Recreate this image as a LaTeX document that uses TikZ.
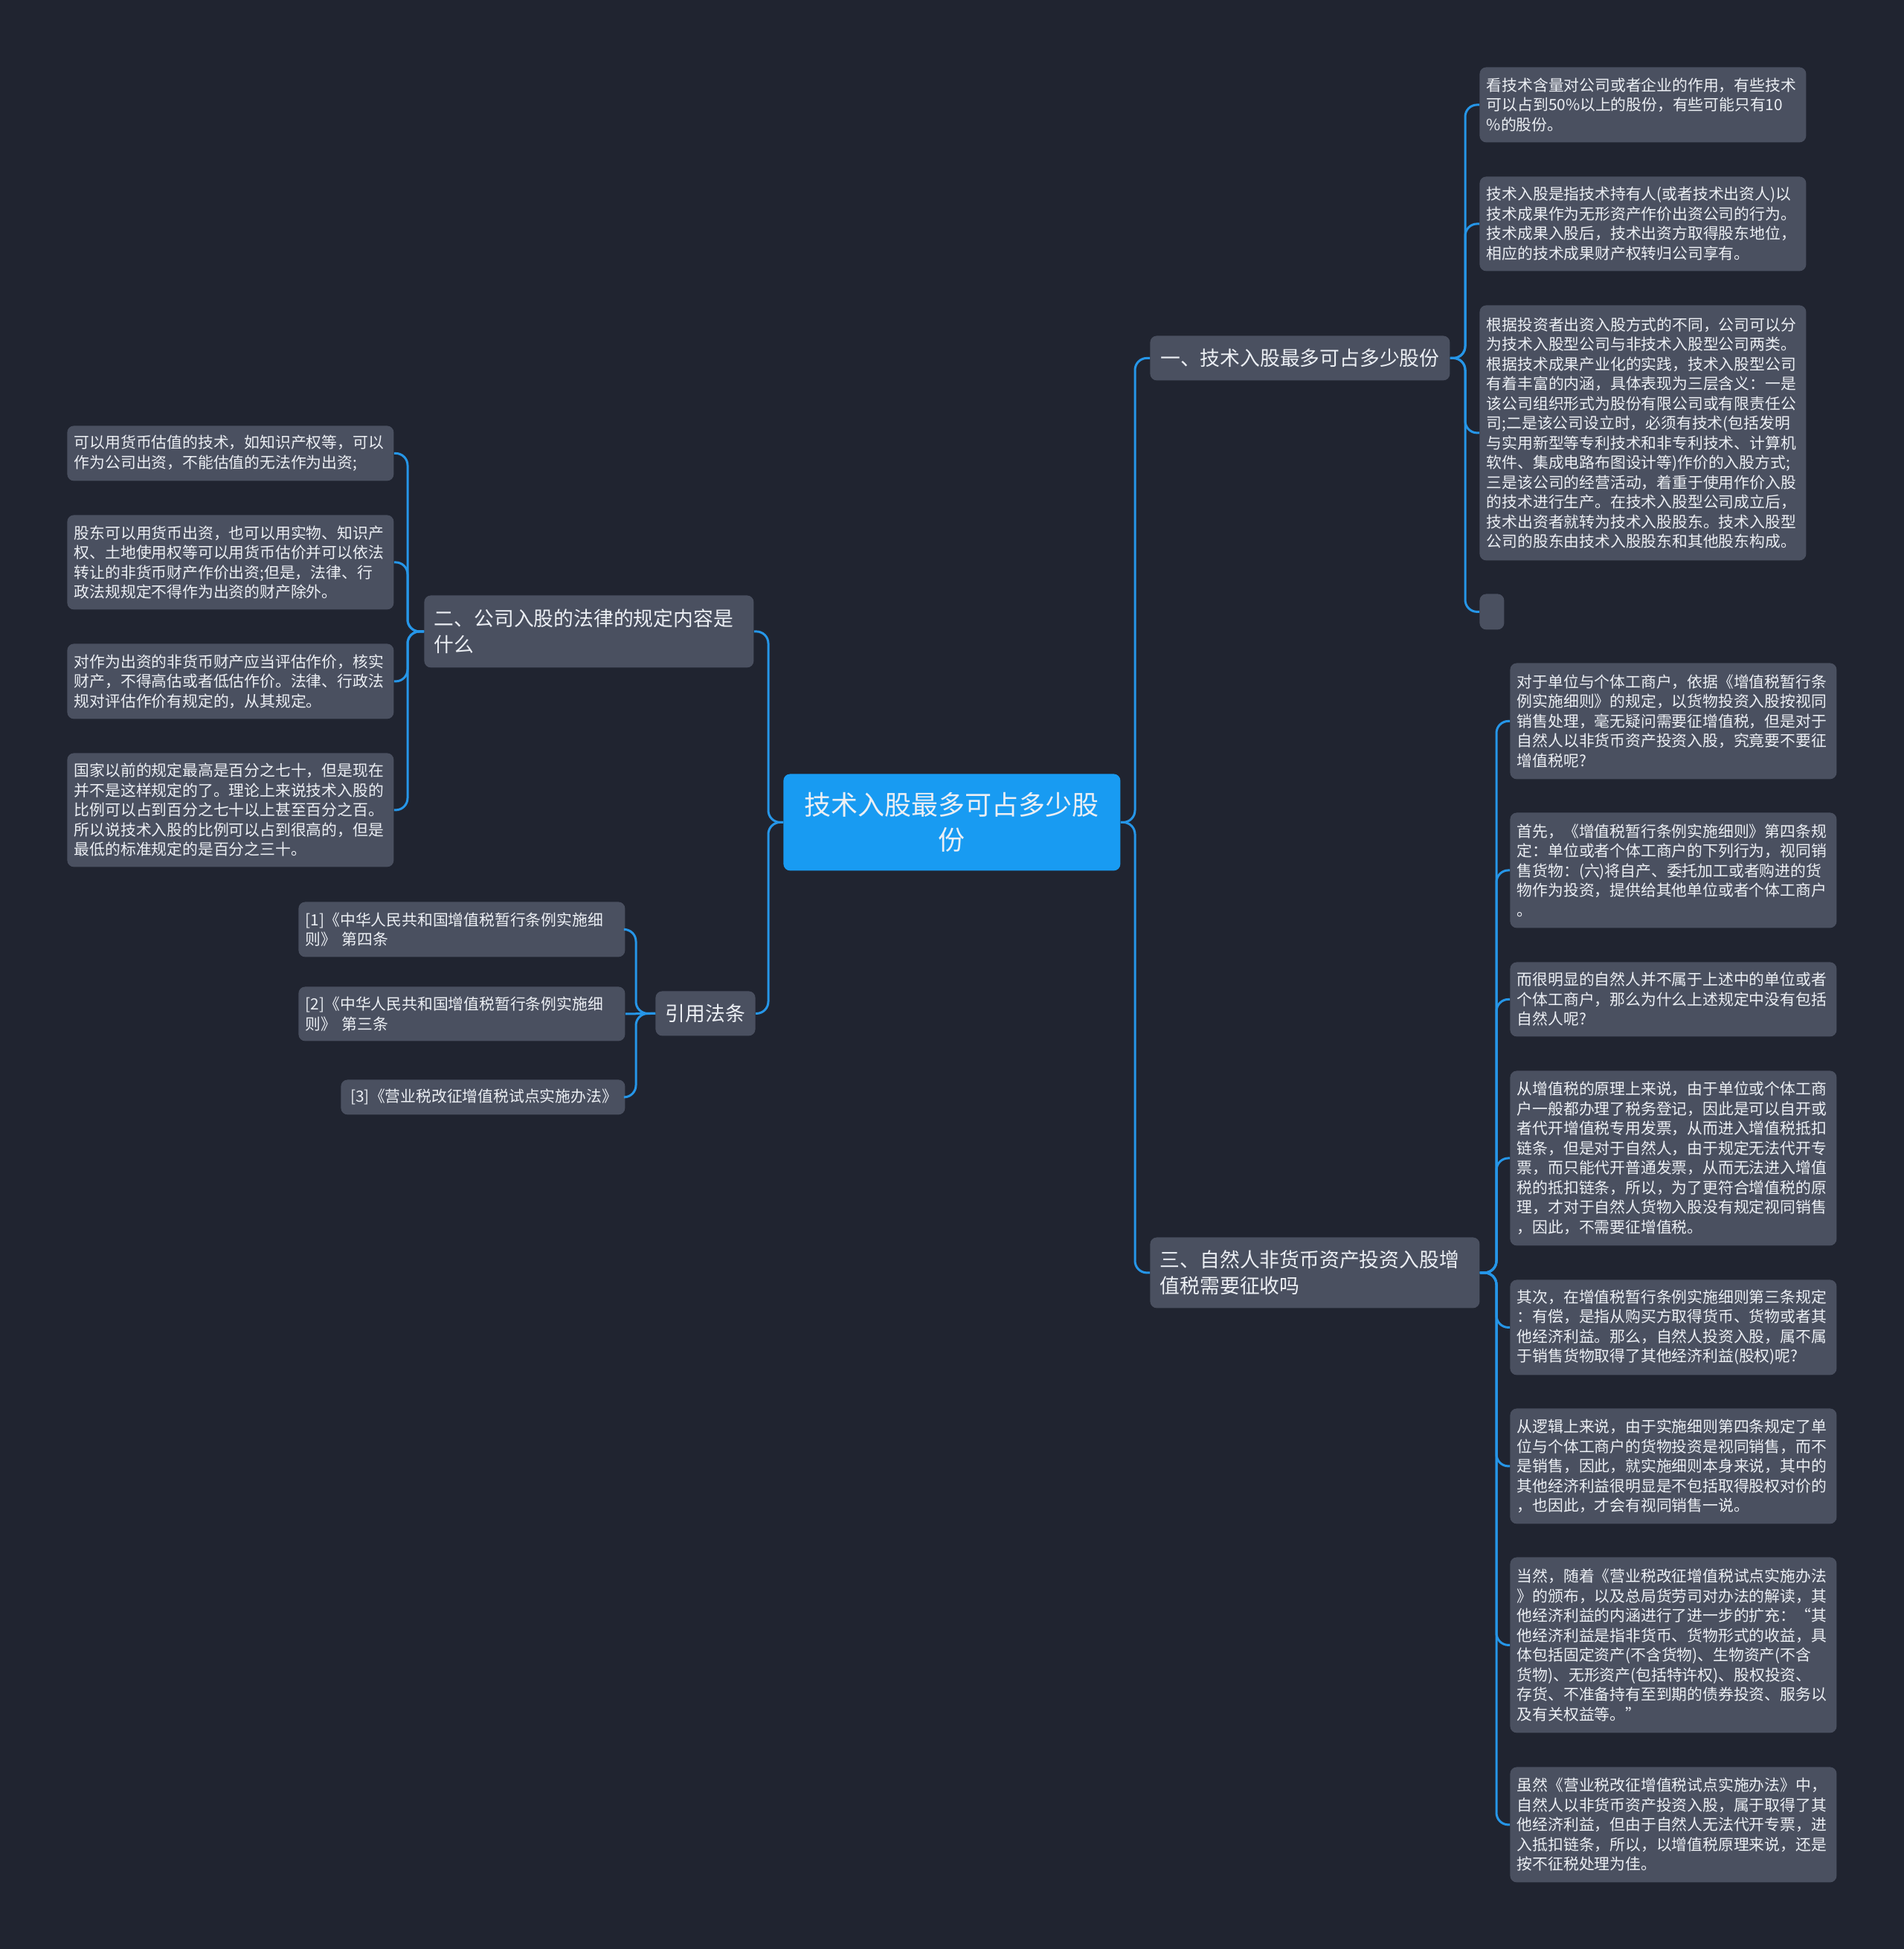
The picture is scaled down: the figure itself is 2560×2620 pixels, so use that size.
\documentclass[tikz,border=0pt]{standalone}
\usepackage{fontspec}
\setmainfont{Noto Sans CJK SC}
\definecolor{canvas}{RGB}{32,36,48}
\definecolor{cardgray}{RGB}{74,80,96}
\definecolor{rootblue}{RGB}{24,155,242}
\definecolor{linkblue}{RGB}{38,150,232}
\definecolor{inktext}{RGB}{236,239,244}

\begin{document}
\begin{tikzpicture}[x=0.5pt, y=-0.5pt,
      card/.style={fill=cardgray, rounded corners=4.5pt, anchor=north west,
                   text=inktext, inner ysep=2pt},
      root/.style={card, fill=rootblue, align=center, text width=210pt, inner xsep=8.25pt,
                   minimum height=65pt, font=\fontsize{18pt}{23.5pt}\selectfont},
      topic/.style={card, align=left, inner xsep=6.75pt, minimum height=30pt,
                    font=\fontsize{13.4pt}{17.5pt}\selectfont},
      leaf/.style={card, align=left, text width=210pt, inner xsep=4.75pt,
                   font=\fontsize{10.4pt}{13.25pt}\selectfont},
      stub/.style={card, minimum width=16.5pt, minimum height=24pt},
      link/.style={draw=linkblue, line width=1.5pt, rounded corners=8pt}]

    \fill[canvas] (0,0) rectangle (2560,2620);

    \node[root] (root) at (1053,1040) {技术入股最多可占多少股\\份};

    \node[topic, minimum width=201.5pt] (t1) at (1546,451) {一、技术入股最多可占多少股份};
    \node[topic, text width=208pt, minimum height=48.5pt] (t2) at (570,800) {二、公司入股的法律的规定内容是\\什么};
    \node[topic, text width=208pt, minimum height=47.5pt] (t3) at (1546,1663) {三、自然人非货币资产投资入股增\\值税需要征收吗};
    \node[topic, minimum width=66pt] (t4) at (881,1332) {引用法条};

    % branch one
    \node[leaf, minimum height=50.5pt] (l1a) at (1989,90) {看技术含量对公司或者企业的作用，有些技术\\可以占到50\%以上的股份，有些可能只有10\\\%的股份。};
    \node[leaf, minimum height=63.5pt] (l1b) at (1989,237) {技术入股是指技术持有人(或者技术出资人)以\\技术成果作为无形资产作价出资公司的行为。\\技术成果入股后，技术出资方取得股东地位，\\相应的技术成果财产权转归公司享有。};
    \node[leaf, minimum height=171.5pt] (l1c) at (1989,410) {根据投资者出资入股方式的不同，公司可以分\\为技术入股型公司与非技术入股型公司两类。\\根据技术成果产业化的实践，技术入股型公司\\有着丰富的内涵，具体表现为三层含义：一是\\该公司组织形式为股份有限公司或有限责任公\\司;二是该公司设立时，必须有技术(包括发明\\与实用新型等专利技术和非专利技术、计算机\\软件、集成电路布图设计等)作价的入股方式;\\三是该公司的经营活动，着重于使用作价入股\\的技术进行生产。在技术入股型公司成立后，\\技术出资者就转为技术入股股东。技术入股型\\公司的股东由技术入股股东和其他股东构成。};
    \node[stub] (l1d) at (1989,798) {};

    % branch two
    \node[leaf, minimum height=37pt] (l2a) at (90,572) {可以用货币估值的技术，如知识产权等，可以\\作为公司出资，不能估值的无法作为出资;};
    \node[leaf, minimum height=63.5pt] (l2b) at (90,692) {股东可以用货币出资，也可以用实物、知识产\\权、土地使用权等可以用货币估价并可以依法\\转让的非货币财产作价出资;但是，法律、行\\政法规规定不得作为出资的财产除外。};
    \node[leaf, minimum height=50.5pt] (l2c) at (90,865) {对作为出资的非货币财产应当评估作价，核实\\财产，不得高估或者低估作价。法律、行政法\\规对评估作价有规定的，从其规定。};
    \node[leaf, minimum height=76.5pt] (l2d) at (90,1012) {国家以前的规定最高是百分之七十，但是现在\\并不是这样规定的了。理论上来说技术入股的\\比例可以占到百分之七十以上甚至百分之百。\\所以说技术入股的比例可以占到很高的，但是\\最低的标准规定的是百分之三十。};

    % branch three
    \node[leaf, minimum height=78pt] (l3a) at (2030,891) {对于单位与个体工商户，依据《增值税暂行条\\例实施细则》的规定，以货物投资入股按视同\\销售处理，毫无疑问需要征增值税，但是对于\\自然人以非货币资产投资入股，究竟要不要征\\增值税呢?};
    \node[leaf, minimum height=77.5pt] (l3b) at (2030,1092) {首先，《增值税暂行条例实施细则》第四条规\\定：单位或者个体工商户的下列行为，视同销\\售货物：(六)将自产、委托加工或者购进的货\\物作为投资，提供给其他单位或者个体工商户\\。};
    \node[leaf, minimum height=50pt] (l3c) at (2030,1293) {而很明显的自然人并不属于上述中的单位或者\\个体工商户，那么为什么上述规定中没有包括\\自然人呢?};
    \node[leaf, minimum height=117.5pt] (l3d) at (2030,1439) {从增值税的原理上来说，由于单位或个体工商\\户一般都办理了税务登记，因此是可以自开或\\者代开增值税专用发票，从而进入增值税抵扣\\链条，但是对于自然人，由于规定无法代开专\\票，而只能代开普通发票，从而无法进入增值\\税的抵扣链条，所以，为了更符合增值税的原\\理，才对于自然人货物入股没有规定视同销售\\，因此，不需要征增值税。};
    \node[leaf, minimum height=64pt] (l3e) at (2030,1720) {其次，在增值税暂行条例实施细则第三条规定\\：有偿，是指从购买方取得货币、货物或者其\\他经济利益。那么，自然人投资入股，属不属\\于销售货物取得了其他经济利益(股权)呢?};
    \node[leaf, minimum height=77.5pt] (l3f) at (2030,1893) {从逻辑上来说，由于实施细则第四条规定了单\\位与个体工商户的货物投资是视同销售，而不\\是销售，因此，就实施细则本身来说，其中的\\其他经济利益很明显是不包括取得股权对价的\\，也因此，才会有视同销售一说。};
    \node[leaf, minimum height=118pt] (l3g) at (2030,2093) {当然，随着《营业税改征增值税试点实施办法\\》的颁布，以及总局货劳司对办法的解读，其\\他经济利益的内涵进行了进一步的扩充：“其\\他经济利益是指非货币、货物形式的收益，具\\体包括固定资产(不含货物)、生物资产(不含\\货物)、无形资产(包括特许权)、股权投资、\\存货、不准备持有至到期的债券投资、服务以\\及有关权益等。”};
    \node[leaf, minimum height=77.5pt] (l3h) at (2030,2375) {虽然《营业税改征增值税试点实施办法》中，\\自然人以非货币资产投资入股，属于取得了其\\他经济利益，但由于自然人无法代开专票，进\\入抵扣链条，所以，以增值税原理来说，还是\\按不征税处理为佳。};

    % citations
    \node[leaf, minimum height=37pt] (c1) at (401,1212) {[1]《中华人民共和国增值税暂行条例实施细\\则》 第四条};
    \node[leaf, minimum height=36.5pt] (c2) at (401,1326) {[2]《中华人民共和国增值税暂行条例实施细\\则》 第三条};
    \node[leaf, text width=178pt, inner xsep=6.5pt, minimum height=23.5pt] (c3) at (458,1451) {[3]《营业税改征增值税试点实施办法》};

    \coordinate (rbus) at (1526,0);
    \coordinate (lbus) at (1033,0);
    \coordinate (t1bus) at (1970,0);
    \coordinate (t2bus) at (548,0);
    \coordinate (t3bus) at (2012,0);
    \coordinate (t4bus) at (855,0);

    \foreach \n in {t1,t3} \draw[link] (root.east) -- (rbus |- root.east) |- (\n.west);
    \foreach \n in {t2,t4} \draw[link] (root.west) -- (lbus |- root.west) |- (\n.east);
    \foreach \n in {l1a,l1b,l1c,l1d} \draw[link] (t1.east) -- (t1bus |- t1.east) |- (\n.west);
    \foreach \n in {l3a,l3b,l3c,l3d,l3e,l3f,l3g,l3h} \draw[link] (t3.east) -- (t3bus |- t3.east) |- (\n.west);
    \foreach \n in {l2a,l2b,l2c,l2d} \draw[link] (t2.west) -- (t2bus |- t2.west) |- (\n.east);
    \foreach \n in {c1,c3} \draw[link] (t4.west) -- (t4bus |- t4.west) |- (\n.east);
    \draw[link] (t4.west) -- (c2.east);
  \end{tikzpicture}
\end{document}
